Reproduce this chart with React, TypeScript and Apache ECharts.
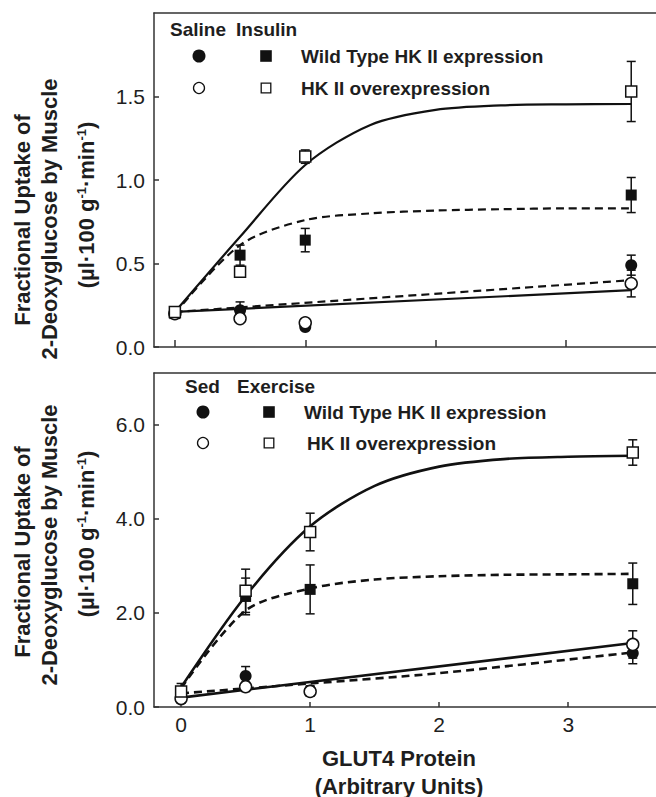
import React, { useEffect, useRef } from "react";
import * as echarts from "echarts";

const FONT = '"Liberation Sans", Arial, Helvetica, sans-serif';
const INK = "#111";
const TXT = "#1e1e1e";

// measured x positions (GLUT4 protein, arbitrary units)
const xPts = [0, 0.5, 1, 3.5];
const xTicks = [0, 1, 2, 3];

// ---------- Top panel (Saline / Insulin) ----------
const topSalineWT = [0.2, 0.22, 0.12, 0.49];
const topSalineWTErr = [0.02, 0.05, 0.02, 0.06];
const topSalineHK = [0.2, 0.17, 0.145, 0.38];
const topSalineHKErr = [0.02, 0.02, 0.02, 0.08];
const topInsulinWT = [0.2, 0.55, 0.64, 0.91];
const topInsulinWTErr = [0.02, 0.06, 0.07, 0.105];
const topInsulinHK = [0.21, 0.45, 1.14, 1.53];
const topInsulinHKErr = [0.02, 0.02, 0.04, 0.18];

// fitted curves read at regular steps of GLUT4 protein
const fitX = [0, 0.5, 1, 1.5, 2, 2.5, 3, 3.5];
const topFitInsulinHK = [0.21, 0.66, 1.09, 1.33, 1.42, 1.447, 1.453, 1.455];
const topFitInsulinWT = [0.2, 0.61, 0.76, 0.8, 0.817, 0.825, 0.83, 0.83];
const lowFitX = [0, 3.5];
const topFitSalineWT = [0.21, 0.4];
const topFitSalineHK = [0.21, 0.34];
const topYTicks = [0, 0.5, 1, 1.5];

// ---------- Bottom panel (Sed / Exercise) ----------
const botSedWT = [0.2, 0.66, 0.35, 1.14];
const botSedWTErr = [0.08, 0.2, 0.1, 0.22];
const botSedHK = [0.18, 0.43, 0.33, 1.33];
const botSedHKErr = [0.1, 0.1, 0.1, 0.29];
const botExWT = [0.3, 2.35, 2.5, 2.62];
const botExWTErr = [0.1, 0.39, 0.52, 0.44];
const botExHK = [0.33, 2.47, 3.72, 5.41];
const botExHKErr = [0.17, 0.46, 0.4, 0.27];

const botFitExHK = [0.42, 2.36, 3.84, 4.7, 5.11, 5.27, 5.32, 5.34];
const botFitExWT = [0.4, 2.05, 2.52, 2.71, 2.78, 2.81, 2.82, 2.83];
const botFitSedHK = [0.2, 1.36];
const sedDashX = [0, 1, 2, 3.5];
const botFitSedWT = [0.29, 0.5, 0.72, 1.16];
const botYTicks = [0, 2, 4, 6];

const pairs = (xs: number[], ys: number[]) => xs.map((x, i) => [x, ys[i]]);
const triples = (xs: number[], ys: number[], es: number[]) => xs.map((x, i) => [x, ys[i], es[i]]);

function errRender(params: any, api: any) {
  const x = api.value(0);
  const y = api.value(1);
  const e = api.value(2);
  const t = api.coord([x, y + e]);
  const b = api.coord([x, y - e]);
  const hw = 4.5;
  const st = { stroke: INK, lineWidth: 1.5 };
  return {
    type: "group",
    children: [
      { type: "line", shape: { x1: t[0], y1: t[1], x2: b[0], y2: b[1] }, style: st },
      { type: "line", shape: { x1: t[0] - hw, y1: t[1], x2: t[0] + hw, y2: t[1] }, style: st },
      { type: "line", shape: { x1: b[0] - hw, y1: b[1], x2: b[0] + hw, y2: b[1] }, style: st },
    ],
  };
}

function fitLine(idx: number, xs: number[], ys: number[], dashed: boolean, w: number) {
  return {
    type: "line",
    xAxisIndex: idx * 2,
    yAxisIndex: idx,
    data: pairs(xs, ys),
    showSymbol: false,
    symbol: "none",
    smooth: 0.3,
    lineStyle: { color: INK, width: w, type: dashed ? [8, 5] : "solid" },
    silent: true,
    z: 2,
  };
}

function errSeries(idx: number, ys: number[], es: number[]) {
  return {
    type: "custom",
    xAxisIndex: idx * 2,
    yAxisIndex: idx,
    data: triples(xPts, ys, es),
    renderItem: errRender,
    silent: true,
    z: 3,
  };
}

function pts(idx: number, ys: number[], shape: string, filled: boolean) {
  return {
    type: "scatter",
    xAxisIndex: idx * 2,
    yAxisIndex: idx,
    data: pairs(xPts, ys),
    symbol: shape,
    symbolSize: shape === "circle" ? 12 : 11,
    itemStyle: {
      color: filled ? INK : "#fff",
      borderColor: INK,
      borderWidth: filled ? 0 : 1.5,
      opacity: 1,
    },
    silent: true,
    z: 4,
  };
}

const axisLineStyle = { color: "#333", width: 1.5 };

function xAxes(gridIndex: number, min: number, max: number, showLabels: boolean, tickLen: number) {
  return [
    {
      type: "value",
      gridIndex,
      min,
      max,
      position: "bottom",
      axisLine: { show: true, onZero: false, lineStyle: axisLineStyle },
      axisTick: { show: true, inside: true, length: tickLen, customValues: xTicks, lineStyle: axisLineStyle },
      axisLabel: {
        show: showLabels,
        customValues: xTicks,
        fontFamily: FONT,
        fontSize: 21,
        color: TXT,
        margin: 7,
      },
      splitLine: { show: false },
    },
    {
      type: "value",
      gridIndex,
      min,
      max,
      position: "top",
      axisLine: { show: true, onZero: false, lineStyle: axisLineStyle },
      axisTick: { show: false },
      axisLabel: { show: false },
      splitLine: { show: false },
    },
  ];
}

function yAxis(gridIndex: number, max: number, ticks: number[]) {
  return {
    type: "value",
    gridIndex,
    min: 0,
    max,
    position: "left",
    axisLine: { show: true, onZero: false, lineStyle: axisLineStyle },
    axisTick: { show: true, inside: true, length: 5, customValues: ticks, lineStyle: axisLineStyle },
    axisLabel: {
      customValues: ticks,
      formatter: (v: number) => v.toFixed(1),
      fontFamily: FONT,
      fontSize: 21,
      color: TXT,
      margin: 9,
    },
    splitLine: { show: false },
  };
}

function legendGraphics(
  y0: number,
  head1: string,
  head1X: number,
  head2: string,
  head2X: number,
  rowY1: number,
  rowY2: number,
  cx: number,
  sx: number,
  tx1: number,
  tx2: number
) {
  const tf = `bold 19px ${FONT}`;
  const txt = (text: string, x: number, y: number) => ({
    type: "text",
    x,
    y,
    style: { text, font: tf, fill: TXT, align: "left", verticalAlign: "middle", textAlign: "left", textVerticalAlign: "middle" },
  });
  return [
    txt(head1, head1X, y0),
    txt(head2, head2X, y0),
    { type: "circle", shape: { cx, cy: rowY1, r: 6.5 }, style: { fill: INK } },
    { type: "rect", shape: { x: sx - 5.8, y: rowY1 - 5.8, width: 11.6, height: 11.6 }, style: { fill: INK } },
    txt("Wild Type HK II expression", tx1, rowY1),
    { type: "circle", shape: { cx, cy: rowY2, r: 5.5 }, style: { fill: "#fff", stroke: INK, lineWidth: 1.3 } },
    { type: "rect", shape: { x: sx - 4.8, y: rowY2 - 4.8, width: 9.6, height: 9.6 }, style: { fill: "#fff", stroke: INK, lineWidth: 1.3 } },
    txt("HK II overexpression", tx2, rowY2),
  ];
}

function yTitle(cy1: number, cy2: number, cy3: number) {
  const f = `bold 22px ${FONT}`;
  const mk = (text: string, x: number, y: number, rich?: any) => ({
    type: "text",
    x,
    y,
    rotation: Math.PI / 2,
    style: {
      text,
      font: f,
      fill: TXT,
      align: "center",
      verticalAlign: "middle",
      textAlign: "center",
      textVerticalAlign: "middle",
      rich,
    },
  });
  return [
    mk("Fractional Uptake of", 22, cy1),
    mk("2-Deoxyglucose by Muscle", 49, cy2),
    mk("(µl·100 g{s|-1}·min{s|-1})", 86, cy3, {
      s: { fontSize: 13, fontWeight: "bold", fontFamily: FONT, fill: TXT, verticalAlign: "top", padding: [0, 0, 9, 0] },
    }),
  ];
}

export default function App() {
  const ref = useRef<HTMLDivElement>(null);
  useEffect(() => {
    if (!ref.current) return;
    const chart = echarts.init(ref.current, undefined, { renderer: "svg" });
    const option: any = {
      animation: false,
      backgroundColor: "#fff",
      grid: [
        { left: 154, top: 13, width: 502, height: 334 },
        { left: 154, top: 373, width: 502, height: 334 },
      ],
      xAxis: [...xAxes(0, -0.16, 3.69, false, 7), ...xAxes(1, -0.21, 3.68, true, 5)],
      yAxis: [yAxis(0, 2, topYTicks), yAxis(1, 7.1, botYTicks)],
      series: [
        fitLine(0, fitX, topFitInsulinHK, false, 2.2),
        fitLine(0, fitX, topFitInsulinWT, true, 2.2),
        fitLine(0, lowFitX, topFitSalineWT, true, 2.2),
        fitLine(0, lowFitX, topFitSalineHK, false, 2.2),
        errSeries(0, topSalineWT, topSalineWTErr),
        errSeries(0, topSalineHK, topSalineHKErr),
        errSeries(0, topInsulinWT, topInsulinWTErr),
        errSeries(0, topInsulinHK, topInsulinHKErr),
        pts(0, topSalineWT, "circle", true),
        pts(0, topInsulinWT, "rect", true),
        pts(0, topSalineHK, "circle", false),
        pts(0, topInsulinHK, "rect", false),

        fitLine(1, fitX, botFitExHK, false, 2.6),
        fitLine(1, fitX, botFitExWT, true, 2.6),
        fitLine(1, lowFitX, botFitSedHK, false, 2.6),
        fitLine(1, sedDashX, botFitSedWT, true, 2.6),
        errSeries(1, botSedWT, botSedWTErr),
        errSeries(1, botSedHK, botSedHKErr),
        errSeries(1, botExWT, botExWTErr),
        errSeries(1, botExHK, botExHKErr),
        pts(1, botSedWT, "circle", true),
        pts(1, botExWT, "rect", true),
        pts(1, botSedHK, "circle", false),
        pts(1, botExHK, "rect", false),
      ],
      graphic: [
        ...legendGraphics(29, "Saline", 170, "Insulin", 236, 56, 88, 199, 266, 301, 301),
        ...legendGraphics(386, "Sed", 185, "Exercise", 237, 412, 443, 203, 269, 304, 307),
        ...yTitle(220, 219, 205),
        ...yTitle(552, 545, 534),
        {
          type: "text",
          x: 399,
          y: 758,
          style: { text: "GLUT4 Protein", font: `bold 22px ${FONT}`, fill: TXT, align: "center", verticalAlign: "middle", textAlign: "center", textVerticalAlign: "middle" },
        },
        {
          type: "text",
          x: 399,
          y: 786,
          style: { text: "(Arbitrary Units)", font: `bold 22px ${FONT}`, fill: TXT, align: "center", verticalAlign: "middle", textAlign: "center", textVerticalAlign: "middle" },
        },
      ],
    };
    chart.setOption(option);
    return () => chart.dispose();
  }, []);
  return (
    <div
      ref={ref}
      style={{ position: "absolute", left: 0, top: 0, width: 656, height: 797, background: "#fff" }}
    />
  );
}
